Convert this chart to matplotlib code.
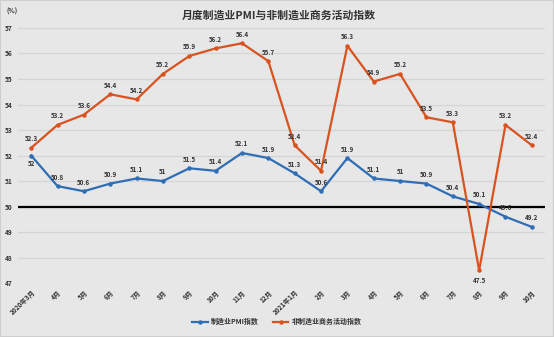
import matplotlib
matplotlib.use("Agg")
import matplotlib.pyplot as plt
from matplotlib.lines import Line2D

plt.rcParams['font.family'] = ['Noto Sans CJK SC', 'DejaVu Sans']

months = ["2020年3月", "4月", "5月", "6月", "7月", "8月", "9月", "10月", "11月", "12月",
          "2021年1月", "2月", "3月", "4月", "5月", "6月", "7月", "8月", "9月", "10月"]
pmi = [52, 50.8, 50.6, 50.9, 51.1, 51, 51.5, 51.4, 52.1, 51.9,
       51.3, 50.6, 51.9, 51.1, 51, 50.9, 50.4, 50.1, 49.6, 49.2]
non_mfg = [52.3, 53.2, 53.6, 54.4, 54.2, 55.2, 55.9, 56.2, 56.4, 55.7,
           52.4, 51.4, 56.3, 54.9, 55.2, 53.5, 53.3, 47.5, 53.2, 52.4]
yticks = [47, 48, 49, 50, 51, 52, 53, 54, 55, 56, 57]

blue = "#2f6db5"
orange = "#d8531f"
bg = "#e7e7e7"

fig = plt.figure(figsize=(5.54, 3.37), dpi=100, facecolor=bg)
ax = fig.add_axes([0.0325, 0.160, 0.9513, 0.757])
ax.set_facecolor(bg)

x = list(range(len(months)))
ax.plot(x, pmi, color=blue, lw=1.6, marker='o', ms=2.2, zorder=3)
ax.plot(x, non_mfg, color=orange, lw=1.6, marker='o', ms=2.2, zorder=3)
ax.axhline(50, color="black", lw=1.6, zorder=2)

lab_kw = dict(fontsize=4.5, fontweight='bold', color="#333333", ha='center',
              textcoords='offset points')
for i, v in enumerate(pmi):
    below = (i == 0)
    ax.annotate(f"{v:g}", (i, v), xytext=(0, -8.5 if below else 4),
                va='bottom', **lab_kw)
for i, v in enumerate(non_mfg):
    below = (v == 47.5)
    ax.annotate(f"{v:g}", (i, v), xytext=(0, -9.5 if below else 4),
                va='bottom', **lab_kw)

ax.set_xlim(-0.5, len(months) - 0.5)
ax.set_ylim(47, 57)
ax.set_yticks(yticks)
ax.set_yticklabels([str(t) for t in yticks], fontsize=4.7, fontweight='bold', color="#333333")
ax.set_xticks(x)
ax.set_xticklabels(months, rotation=45, ha='right', rotation_mode='anchor',
                   fontsize=4.7, fontweight='bold', color="#333333")
ax.tick_params(axis='both', length=0, pad=4)
ax.grid(axis='y', color="#d5d5d5", lw=0.9, zorder=1)
for s in ax.spines.values():
    s.set_visible(False)

fig.text(0.503, 0.955, "月度制造业PMI与非制造业商务活动指数", ha='center', va='center',
         fontsize=7.8, fontweight='bold', color="#333333")
fig.text(0.012, 0.966, "(%)", ha='left', va='center', fontsize=4.7,
         fontweight='bold', color="#333333")

handles = [Line2D([0], [0], color=blue, lw=1.6, marker='o', ms=2.2),
           Line2D([0], [0], color=orange, lw=1.6, marker='o', ms=2.2)]
fig.legend(handles, ["制造业PMI指数", "非制造业商务活动指数"], loc='center',
           bbox_to_anchor=(0.50, 0.045), ncol=2, frameon=False,
           prop={'size': 5, 'weight': 'bold'}, labelcolor="#333333",
           handlelength=2.2, columnspacing=2.0, handletextpad=0.5)

fig.patches.append(plt.Rectangle((0, 0), 1, 1, transform=fig.transFigure,
                                 fill=False, edgecolor="#cfcfcf", lw=1.5))

fig.savefig("out.png", dpi=100, facecolor=bg)
